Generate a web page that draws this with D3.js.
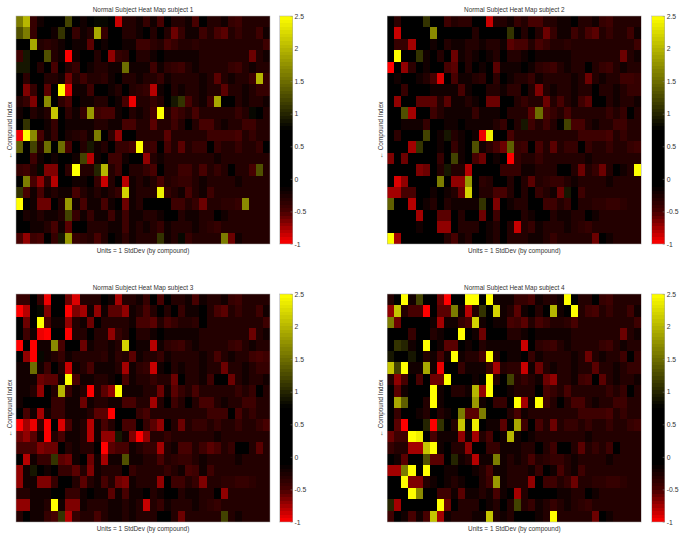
<!DOCTYPE html>
<html>
<head>
<meta charset="utf-8">
<script src="https://cdn.jsdelivr.net/npm/d3@7"></script>
<style>
  body { margin: 0; background: #fff; }
  text { font-family: "Liberation Sans", Arial, sans-serif; fill: #333; }
</style>
</head>
<body>
<svg id="chart" width="683" height="538"></svg>
<script>
const colorStops = [-1, -0.5, -0.1, 0.75, 2.5];
const colorRange = ["#ff0000", "#460000", "#000000", "#000000", "#ffff00"];
const barTicks = [-1, -0.5, 0, 0.5, 1, 1.5, 2, 2.5];
const xLabel = "Units = 1 StdDev (by compound)";
const yLabel = "\u2190 Compound Index";

const subject1 = [
[1.6,2,-.4,-.2,-.1,0,0,1.2,0,-.2,-.1,.8,.8,-.1,-.85,-.3,-.3,-.2,-.4,-.2,-.5,0,-.3,-.3,-.2,-.5,0,-.3,-.3,-.2,-.4,-.45,-.3,-.3,-.3,-.3],
[1.3,1.6,-.4,-.1,.6,-.2,1.1,.3,-.4,-.2,-.3,1.9,-.4,0,.3,-.3,-.3,-.2,-.1,-.3,0,-.3,-.6,-.4,-.2,-.2,-.45,-.3,-.5,-.55,-.3,-.4,-.3,-.3,-.45,-.2],
[0,0,1.9,-.3,-.35,-.3,-.2,0,-.2,-.2,-.55,-.1,-.2,0,0,-.2,-.2,-.45,-.45,-.35,-.3,-.5,-.4,-.3,-.3,-.35,-.3,-.3,-.3,-.3,-.3,-.3,-.3,-.3,-.3,-.45],
[-.45,.9,0,0,1.3,-.3,-.2,-1,-.2,.3,-.1,-.3,-.1,-.7,-.4,-.35,-.1,-.3,-.3,-.2,-.1,-.2,-.2,-.2,-.2,-.2,-.3,-.3,-.3,-.3,-.3,-.3,-.3,-.6,-.3,-.2],
[.9,.9,0,-.3,0,-.5,0,-.3,-.4,0,-.2,-.3,-.3,-.2,-.2,1.5,-.2,-.2,-.2,-.45,-.2,-.35,-.4,-.45,-.3,-.2,-.3,-.3,-.3,-.3,-.4,-.45,-.3,-.2,-.3,-.3],
[.3,-.35,0,0,-.3,-.3,-.2,-.6,-.3,-.45,-.3,-.3,-.35,-.2,-.1,-.3,-.3,-.2,-.3,-.3,-.4,-.2,-.3,-.3,-.3,-.3,-.2,-.3,-.55,-.3,-.2,-.3,-.3,-.45,2,-.4],
[-.1,-.65,-.4,0,-.55,0,2.5,-.9,-.2,-.2,-.45,0,0,-.2,-.3,.5,-.3,-.35,-.4,-.8,-.2,-.1,-.3,-.2,-.3,-.3,-.2,-.3,-.3,-.55,-.3,-.3,-.2,-.3,-.4,-.4],
[-.3,-.4,-.65,0,1.7,0,-.35,-.5,0,-.2,-.2,-.3,-.3,-.1,-.2,-.5,-.95,-.3,-.3,-.4,-.3,0,.9,1.1,-.5,-.3,-.2,-.45,1.9,.1,-.1,-.3,-.2,-.3,-.3,-.2],
[-.2,0,-.3,-.2,-.3,2.1,0,-.35,-.2,-.4,1.8,-.45,-.5,-.5,-.2,-.1,-.3,-.2,-.3,-.5,2.5,-.3,-.5,-.4,-.3,-.5,-.3,-.3,-.3,-.3,-.3,-.4,-.3,.8,-.1,-.3],
[-.1,1.1,0,0,-.2,-.4,-.1,-.2,-.2,-.2,-.2,-.3,-.3,-.2,-.2,-.5,-.5,-.3,-.3,-.55,-.3,-.3,-.45,-.3,-.1,-.3,-.5,-.5,-.3,-.2,-.3,-.3,-.45,-.45,-.3,-.3],
[-.95,2.5,1.7,-.5,-.2,-.4,0,-.25,-.3,-.35,-.2,1.6,-.1,-.35,-.7,-.1,-.1,-.3,-.3,-.3,-.3,-.55,-.3,-.3,-.3,-.3,-.3,-.45,-.45,-.45,-.45,-.5,-.3,-.4,-.3,-.3],
[1.4,0,1.2,-.3,1.5,-.1,1.5,-.5,-.1,-.3,.9,-.2,-.3,-.1,-.4,-.4,-.5,2.5,-.4,-.45,-.1,-.5,-.3,-.55,-.3,-.4,-.4,.1,-.4,-.3,-.3,-.4,-.3,-.3,-.4,-.1],
[0,0,-.45,-.2,0,-.2,.1,.5,-.2,1.2,-.8,-.2,0,-.45,-.45,-.2,0,0,-.7,-.3,-.2,-.3,-.3,-.3,-.3,-.3,-.3,-.3,-.2,-.3,-.3,-.3,-.3,-.3,-.3,-.3],
[-.4,-.45,-.3,.8,-.65,-.65,0,-.35,2.5,-.3,-.3,1,2,-.3,-.45,0,-.3,-.3,-.4,-.5,0,-.3,-.3,-.45,-.45,-.3,-.5,-.3,-.4,-.3,-.1,-.3,-.3,-.5,1.3,-.3],
[0,1.6,-.5,-.7,-.35,-.8,-.1,.7,-.2,-.2,0,-.4,-.85,-.3,-.1,-.8,-.2,-.3,-.2,-.3,-.5,-.3,-.35,-.4,-.4,-.3,-.2,-.3,-.3,-.3,-.3,-.2,-.3,-.3,-.3,-.3],
[1.1,-.5,-.2,-.5,-.2,-.3,-.2,-.2,-.5,-.3,-.2,-.3,-.2,-.3,-.4,2.2,-.2,-.3,-.3,-.3,2.4,-.4,-.3,-.2,-.5,-.3,-.2,-.45,-.3,-.3,-.3,-.3,-.3,-.3,-.3,-.3],
[2.5,0,-.2,-.6,-.6,0,-.3,1.8,-.2,-.5,-.2,-.2,-.5,-.2,-.1,-.6,-.2,-.3,0,-.1,0,-.1,-.45,-.45,-.3,-.4,-.6,-.3,-.3,-.35,-.35,-.4,1.7,-.3,-.3,-.3],
[0,-.25,-.2,-.3,-.2,-.2,-.3,1.2,-.4,-.2,-.4,-.2,-.2,-.45,-.2,-.45,-.2,-.2,-.3,-.3,-.2,-.1,-.1,-.3,-.2,-.2,-.3,-.3,-.1,-.2,-.3,-.3,-.3,-.3,-.3,-.3],
[0,.1,-.2,-.2,-.3,-.5,-.2,-.55,0,-.1,-.3,-.3,-.3,-.2,-.2,-.45,-.2,-.3,-.2,-.3,-.4,-.2,-.3,-.3,-.3,-.2,-.3,-.35,-.4,-.3,-.3,-.3,-.3,-.3,-.3,-.3],
[-.5,-.7,-.45,-.5,.1,-.4,.9,1.8,-.4,-.35,-.3,-.5,-.3,0,-.2,-.35,-.2,-.3,-.3,-.3,1.1,-.2,-.3,.8,-.4,-.3,-.3,-.3,-.3,1.6,-.6,-.2,-.3,-.3,-.3,-.3]
];

const subject2 = [
[0,-.35,-.1,-.1,-.1,1.1,0,-.1,-.45,-.3,-.35,-.35,0,-.1,-.85,-.3,-.3,-.2,-.4,-.3,-.5,-.5,-.3,-.3,-.2,-.2,0,-.3,-.3,-.2,-.4,-.45,-.3,-.3,-.3,-.3],
[0,-.85,0,0,0,0,1.7,0,0,.5,0,0,-.3,0,0,0,0,1.1,-.1,-.3,-.1,-.3,-.6,-.4,-.2,-.2,-.45,-.3,-.5,-.55,-.3,-.4,-.3,-.3,-.45,-.2],
[0,-.4,-.4,-.75,0,0,-.2,-.1,-.3,-.2,-.2,-.3,-.3,-.2,-.3,-.3,-.2,-.55,-.5,-.5,-.3,-.5,-.4,-.3,-.3,-.35,-.3,-.3,-.3,-.3,-.3,-.3,-.3,-.3,-.3,-.45],
[0,2.5,-.1,0,1.1,-.2,-.1,-.3,-.1,-.6,-.2,-.3,-.2,-.1,-.2,-.3,-.1,-.3,-.3,-.2,-.1,-.2,-.2,-.2,-.2,-.2,-.3,-.3,-.3,-.3,-.3,-.3,-.3,-.6,-.3,-.2],
[-1,-.1,-.7,-.35,-.1,-.2,0,0,-.5,-.55,-.1,-.3,0,-.2,-.1,-.55,-.2,-.2,-.2,.5,-.2,-.35,-.4,-.45,-.3,-.2,-.3,-.3,0,-.3,-.4,-.45,-.3,-.2,-.3,-.3],
[-.1,-.2,-.1,-.1,-.2,-.3,-.5,-.9,-.1,-.5,-.2,-.2,-.3,-.35,-.1,-.35,0,-.2,-.3,-.3,-.4,-.2,-.3,-.3,-.3,-.3,-.2,-.3,-.6,-.3,-.2,-.3,-.3,-.45,-.45,-.4],
[0,-.1,-.4,-.1,-.1,-.1,-.2,-.2,-.2,-.2,-.5,-.2,-.1,-.1,-.3,-.3,-.2,-.35,-.35,-.1,-.3,-.65,-.3,-.2,-.3,-.3,-.2,-.3,-.3,.7,-.3,-.3,-.2,-.3,-.4,-.4],
[0,-.7,-.1,-.1,-.55,-.55,-.55,-.3,-.55,-.2,-.2,-.3,-.2,-.1,-.6,-.6,0,0,-.3,-.4,-.3,-.3,-.6,-.3,-.5,-.3,-.2,-.45,-.55,0,-.1,-.3,-.2,-.3,-.3,-.2],
[0,.6,1.3,-.75,-.1,-.1,-.45,-.3,-.2,-.2,-.2,-.2,-.4,-.2,-.2,-.2,-.1,-.3,-.3,-.3,-.55,1.5,-.5,-.4,-.3,-.5,-.3,-.3,-.3,-.3,-.3,-.4,-.3,-.4,-.1,-.3],
[0,.1,-.2,-.2,-.2,-.4,-.1,-.1,-.2,-.2,-.1,-.2,-.2,-.2,-.2,-.3,-.4,-.1,-.3,.9,-.45,-.3,-.45,-.3,-.1,1.2,-.5,-.5,-.3,-.2,-.3,-.3,-.45,-.45,-.3,-.3],
[0,-.35,0,.6,-.1,1.2,0,-.2,.9,-.3,-.2,-.1,-.2,-.95,2.4,-.1,-.1,-.5,-.3,-.3,-.3,-.3,-.3,-.3,-.3,-.3,-.3,-.45,-.45,-.45,-.45,-.5,-.3,-.4,-.3,-.3],
[.6,0,0,-.75,1.1,-.1,.1,-.2,-.1,-.4,-.2,-.1,1.3,-.2,-.35,-.5,-.6,1.4,-.4,-.45,-.1,-.5,-.3,-.55,-.3,-.4,-.4,-.1,-.4,-.3,-.3,-.4,-.3,-.3,-.4,-.45],
[-.65,-.1,-.6,-.1,-.1,-.1,-.1,-.4,-.1,1.2,-.2,-.1,-.5,-.6,-.1,-.2,-.1,-1,-.4,-.3,-.3,-.4,-.3,-.3,-.3,-.3,-.3,-.3,-.2,-.3,-.3,-.3,-.3,-.3,-.3,-.3],
[-.1,-.1,.7,.2,-.65,-.6,-.1,-.3,.9,-.3,-.3,-.8,0,0,-.1,-.1,-.4,-.4,-.4,-.2,-.2,-.3,-.3,-.3,.4,0,-.3,-.6,-.3,-.4,-.6,-.3,-.1,-.2,-.3,2.5],
[-.1,-.9,-.7,-.1,-.1,.4,.4,1.6,0,-.7,-.7,1.8,-.1,-.35,-.3,-.1,-.1,-.3,-.1,-.3,-.55,-.3,-.35,-.4,-.4,-.3,-.2,-.3,-.3,-.3,-.3,-.2,-.3,-.3,-.3,-.3],
[-.75,-.75,-.5,-.5,-.1,-.1,-.2,-.1,-.2,-.3,-.6,2.2,-.1,-.3,-.3,-.5,-.5,-.3,-.1,-.3,0,-.4,-.3,-.2,-.6,.9,-.1,-.45,-.3,-.3,-.3,-.3,-.3,-.3,-.3,-.3],
[1.4,0,0,-.8,-.1,-.2,-.3,-.1,-.3,-.2,-.2,-.2,-.2,1.1,-.1,-.65,-.1,-.2,-.3,-.3,0,-.1,-.45,-.45,-.3,-.4,-.1,-.3,-.3,-.35,-.35,-.4,-.4,-.35,-.3,-.3],
[0,.5,.5,-.1,-.75,-.1,-.1,-.55,-.55,-.1,-.3,-.1,-.1,-.6,-.1,-.45,-.1,-.1,0,-.3,-.2,-.1,-.1,-.3,-.2,-.2,-.3,-.3,-.1,-.2,-.3,-.3,-.3,-.3,-.3,-.3],
[0,0,0,.7,-.2,-.1,-.1,-.7,-.7,-.1,-.3,-.3,-.3,-.1,-.2,-.3,-.1,-.3,-.85,-.3,-.4,-.2,-.3,-.3,-.3,-.2,-.3,-.35,-.4,-.3,-.3,-.3,-.3,-.3,-.3,-.3],
[2.5,-.75,-.1,0,0,0,0,-.1,-.3,-.5,-.2,-.3,-.1,-.1,-.2,-.3,-.1,-.3,-.3,-.3,-.2,-.2,-.3,-.4,-.3,-.3,-.3,-.3,-.3,-.6,-.1,-.2,-.3,-.3,-.3,-.3]
];

const subject3 = [
[-.4,-.4,-.1,-.4,-.95,.7,-.1,-.6,-.9,-.3,-.3,-.3,0,-.2,-.75,-.3,-.3,-.2,-.4,0,-.5,0,-.3,-.3,-.2,-.5,-.2,-.3,-.3,-.2,-.4,-.45,-.3,-.3,-.3,-.3],
[-1,-.8,-.1,.8,-.65,.5,-.1,-1,-.65,-.75,-.2,-.7,-.2,-.55,-.55,-.7,-.2,-.3,-.5,-.3,-.1,-.3,0,-.4,-.2,-.2,0,-.3,-.5,-.55,-.3,-.4,-.3,-.3,-.45,-.2],
[0,-.6,.7,2.5,-.5,-.2,-.2,-.7,-.3,-.2,-.6,-.1,-.3,-.3,-.3,-.3,-.2,-.5,-.5,-.55,-.3,-.5,-.4,-.3,-.3,-.35,.1,-.3,-.3,-.3,-.3,-.3,-.3,-.3,-.3,-.45],
[0,-.45,-.2,-.95,-1,-.1,-.1,-1,-.3,-.3,-.1,-.3,-.3,-.7,-.4,-.3,-.1,-.3,-.3,-.2,-.1,-.2,-.2,-.2,-.2,-.2,-.3,-.3,-.3,-.3,-.3,-.3,-.3,-.6,-.3,-.2],
[-1,0,-1,-.2,-.2,1.7,-.5,0,0,-.6,-.2,-.3,-.3,-.2,-.3,2.2,-.1,-.2,-.2,-.8,-.2,-.35,-.4,-.45,-.3,-.2,-.3,-.3,-.3,-.3,-.4,-.45,-.3,-.2,-.3,-.3],
[-.1,-.7,-1,.8,-.2,-.3,-.4,-.2,-.3,-.3,-.3,-.3,-.35,-.2,-.35,-.3,-.55,-.2,-.3,-.3,-.4,-.2,-.3,-.3,-.3,-.3,-.2,-.3,-.5,-.3,-.2,-.3,-.3,-.45,-.5,-.45],
[-.2,-.2,1.5,-.2,-.45,0,-.3,-.85,-.2,-.3,-.5,-.2,-.2,-.2,-.3,-.75,-.2,-.35,-.4,-.85,-.2,-.1,-.3,-.2,-.3,-.3,-.2,-.3,-.3,-.6,-.3,-.3,-.2,-.3,-.4,-.4],
[-.2,-.2,-.2,-.6,-.55,-.55,-.2,2.5,-.5,-.2,-.2,-.3,-.3,-.2,0,-.5,-.2,-.3,-.3,-.4,-.3,-.3,-.6,.6,-.3,-.3,-.2,-.45,0,0,-.6,-.3,-.2,-.3,-.3,-.2],
[-.2,-.2,-.3,-.7,-.1,-.3,2,-.4,-.2,-.3,-1,-.3,-.55,-.7,2.5,-.2,-.2,-.2,-.3,-.3,-.6,-.2,-.55,-.4,-.3,-.5,-.3,-.3,-.3,-.3,-.3,-.4,-.3,-.4,-.1,-.3],
[-.2,0,0,0,-.1,-.4,-.4,-.2,-.2,-.6,-.2,-.3,-.3,-.2,-.2,-.5,-.5,-.3,-.3,-.75,-.3,-.1,-.45,-.3,-.1,-.3,-.5,-.5,-.3,-.2,-.3,-.3,-.45,-.45,-.3,-.3],
[.5,-.5,-.2,-.75,-.2,-.4,-.4,-.2,-.2,-.2,-.3,-.55,-.55,-1,-.1,-.1,-.1,-.4,-.5,-.3,-.3,-.3,-.3,-.3,-.3,-.3,-.3,-.45,-.45,-.45,0,-.5,-.3,-.4,-.3,-.3],
[-1,-.75,-.95,-.4,-1,-.1,-.9,-.5,-.2,-.3,-.8,-.2,-.5,-.3,0,-.5,-.5,-.1,-.4,-.55,-.7,-.1,-.3,-.6,-.3,-.4,-.4,-.3,-.4,-.3,-.3,-.4,-.3,-.3,-.4,-.5],
[-.6,-.7,-.55,-.2,-1,-.3,-.5,-.2,-.2,-.3,-.8,-.2,-.7,-.7,.9,-.2,-.65,-1,-.7,-.3,-.3,-.4,-.3,-.3,-.3,-.3,-.3,-.3,-.2,-.3,-.3,-.3,-.3,-.3,-.3,-.3],
[-.5,-.5,-.5,-.65,-.6,-.6,0,-.3,-.2,-.3,-.3,.4,-1,-.55,-.5,-.5,-.2,-.3,-.4,-.4,-.75,-.3,-.2,-.5,-.5,-.3,-.45,-.55,-.5,-.3,-.4,-.1,-.1,-.3,-.55,-.3],
[0,-.8,-.2,-.4,-.4,1.1,-.55,-.6,-.2,0,-.6,-.2,-.75,-.2,-.2,1.3,-.2,-.2,-.3,-.3,-.5,-.3,-.35,-.4,-.4,-.3,-.2,-.3,-.3,-.3,-.3,-.2,-.3,-.3,-.3,-.3],
[-.7,-.2,.9,.6,-.2,-.1,-.4,-.4,-.55,-.3,-.65,-.2,-.3,-.3,-.3,-.1,-.4,-.3,-.3,-.3,-.3,-.4,-.3,-.2,-.5,-.45,-.2,-.45,-.3,-.3,-.3,-.3,-.3,-.3,-.3,-.3],
[-.7,-.2,-.2,-.65,-.65,-.4,-.1,0,-.3,-.55,-.3,-.2,-.5,-.3,-.6,-.65,-.2,-.3,-.3,-.3,-.7,-.1,-.45,-.45,-.3,-.4,-.65,-.3,-.3,-.35,-.35,-.4,-.4,-.35,-.3,-.3],
[-.3,-.3,-.2,-.2,-.2,0,0,-.4,-.4,-.2,0,-.2,-.2,-.55,-.2,-.5,-.2,-.2,0,-.3,-.2,-.1,-.1,-.3,-.2,-.2,-.3,-.3,-.1,-.7,-.3,-.3,-.3,-.3,-.3,-.3],
[-.7,-.7,-.2,-.2,-.3,2.5,-.2,-.65,-.65,-.2,-.3,-.3,-.3,-.2,-.2,-.3,-.2,-.3,-.85,-.3,-.4,-.2,-.3,-.3,-.3,-.2,-.3,-.35,-.4,-.3,-.3,-.3,-.3,-.3,-.3,-.3],
[-.3,0,-.2,-.2,-.4,-.5,1.1,-.8,-.4,-.3,-.3,-.5,-.3,-.2,-.2,-.3,-.2,-.3,-.3,-.3,0,-.1,-.3,-.6,-.3,-.3,-.3,-.3,-.3,1.2,-.3,-.2,-.3,-.3,-.3,-.3]
];

const subject4 = [
[-.3,0,2.5,-.2,1.2,0,0,-.6,-1,-.1,-.1,2.5,2.5,-.1,2.5,-.2,-.2,-.2,-.4,-.4,-.5,-.2,-.3,-.3,-.2,2.5,-.1,-.3,-.3,0,-.4,-.45,-.3,-.3,-.3,-.3],
[-.7,2.1,-.3,-.5,-.5,-1,0,-.55,-.55,1.6,-.2,-.8,-.3,1.1,-.1,2.2,-.2,-.3,-.55,-.2,-.1,-.3,-.1,2,-.2,-.1,2.5,-.3,-.45,-.5,-.3,-.4,-.3,-.3,-.45,-.2],
[1.6,-.6,.6,0,.1,0,-.2,-.75,-.2,-.2,-.4,-.5,2.2,-.2,-.1,-.2,-.2,-.5,-.45,-.55,-.3,-.5,-.4,-.3,-.3,-.35,-.5,-.3,-.3,-.3,-.3,-.3,-.3,-.3,-.3,-.45],
[0,0,0,-.4,-.1,0,-.3,-.2,-.1,0,2.5,0,-.2,-.6,0,-.1,-.1,-.3,-.3,-.2,-.1,-.2,-.2,-.2,-.2,-.2,-.3,-.3,-.3,-.3,-.3,-.3,-.3,-.6,-.3,-.2],
[0,1.1,1,-.2,0,2.5,0,-.2,-.55,-.55,.6,-.2,0,-.3,-.2,-.2,-.2,-.2,-.2,-.85,-.1,-.35,-.4,-.45,-.3,-.2,-.3,-.3,-.3,-.3,-.4,-.45,-.3,-.2,-.3,-.3],
[.9,0,0,.9,0,-.3,-.2,-.5,-.2,2.5,-.2,-.3,-.3,-.5,2.5,-.3,0,-.2,-.2,0,-.4,-.2,-.3,-.3,-.3,-.3,-.2,-.3,-.6,-.3,-.2,-.3,-.3,-.45,0,-.4],
[2.1,1.2,2.5,-.2,-.2,1.9,-.2,-.95,-.1,-.1,-.4,-.2,-.2,-.2,-.4,-.75,-.3,-.35,-.35,-.85,-.2,-.6,-.3,-.2,-.3,-.3,-.2,-.3,-.3,-.55,-.3,-.3,-.2,-.3,-.4,-.4],
[-.3,-.7,-.5,-.1,-.5,-.1,-.6,-.6,2.5,-.1,-.1,.4,-.2,-.1,2.5,-.3,0,1.2,-.3,-.4,-.3,-.2,-.6,-.7,-.3,-.3,-.2,-.45,-.5,0,-.55,-.3,-.2,-.3,-.3,-.2],
[0,-.55,-.2,-.1,-.1,-.1,2.5,-.2,-.1,-.3,-.3,-.2,2,-.7,2.5,-.1,-.1,-.2,-.3,-.3,-.3,0,-.5,-.4,-.3,-.5,-.3,-.3,-.3,-.3,-.3,-.4,-.3,-.4,-.1,-.3],
[-.1,1.9,1.4,-.1,0,-.3,2.5,-.2,0,0,0,-.1,1.8,-.2,-.1,-.4,-.4,-.1,2.5,-.75,-.2,2.5,-.45,-.3,-.1,-.3,-.5,-.5,-.3,-.2,-.3,-.3,-.45,-.45,-.3,-.3],
[.7,-.4,0,0,-.2,-.3,-.1,-.3,-.2,-.1,1.6,-.55,-.55,1.6,-.1,-.1,-.1,-.3,-.5,-.2,-.3,-.3,-.3,-.3,-.3,-.3,-.3,-.45,-.45,-.45,-.45,-.5,-.3,-.4,-.3,-.3],
[-.1,-.55,-1,-.1,-.1,1,-1,1.1,-.1,-.3,2.1,-.1,2.4,0,-.2,-.2,-.55,-.1,1.9,-.45,-.1,-.5,-.3,-.6,-.3,-.4,-.4,-.3,-.4,-.3,-.3,-.4,-.3,-.3,-.4,-.45],
[-.6,-.45,-.45,2.5,2.4,-.1,-.5,-.2,-.2,-.2,-.7,-.2,-.75,-.3,-.5,-.1,-.2,2,-.2,-.1,-.2,-.3,-.3,-.3,-.3,-.3,-.3,-.3,-.2,-.3,-.3,-.3,-.3,-.3,-.3,-.3],
[-.4,-.3,-.3,-.75,-.75,2.1,2.5,-.2,-.1,-.3,-.3,-.7,0,0,-.4,-.4,-.2,-.2,-.2,-.3,-.3,0,-.3,-.45,0,-.1,-.3,-.55,-.3,-.4,-.3,-.45,-.1,-.3,-.3,-.3],
[-.1,-.2,-.55,-.1,-.1,1.3,-.55,-.55,-.1,1,-.2,-.3,-.8,-.2,-.2,1.6,-.2,-.3,-.2,-.3,-.5,-.3,-.35,-.4,-.4,-.3,-.2,-.3,-.3,-.3,-.3,-.2,-.3,-.3,-.3,-.3],
[-.75,-.75,1.6,2.5,-.1,2.5,-.1,-.1,-.2,-.2,.5,.6,-.2,-.3,-.5,-.2,-.2,-.3,-.3,-.3,-.2,-.4,0,-.2,-.5,-.3,-.2,-.45,-.3,-.3,-.3,-.3,-.3,-.3,-.3,-.3],
[0,0,2.5,-.65,-.65,-.3,-.2,0,-.2,-.3,-.2,-.1,-.1,-.3,-.45,1.8,-.2,-.3,-.3,-.3,-.7,-.1,-.45,-.45,-.3,-.4,-.6,-.3,-.3,-.35,-.35,-.4,-.4,-.35,-.3,-.3],
[0,0,-.1,2.5,1.7,-.1,-.1,-.45,-.45,-.2,-.55,-.2,-.2,-.3,-.2,-.5,-.2,.6,-.75,-.3,0,-.1,0,0,-.2,-.2,-.3,-.3,-.1,-.2,-.3,-.3,-.3,-.3,-.3,-.3],
[1,-.75,-.1,-.1,-.1,.7,.1,2.5,-.6,-.1,-.3,-.3,-.3,-.1,-.2,-.3,-.1,-.3,1.2,-.3,-.4,-.2,-.3,-.4,-.3,-.2,-.3,-.35,-.4,-.3,-.3,-.3,-.3,-.3,-.3,-.3],
[-.45,0,-.2,-.5,-.2,-.5,2.1,-.75,-.2,-.3,-.3,-.3,-.2,-.2,2.1,-.3,-.2,-.3,-.1,0,0,-.2,-.3,2.5,-.3,-.3,-.3,-.3,-.3,-.6,-.1,-.2,-.3,-.3,-.3,-.3]
];

const subjects = [subject1, subject2, subject3, subject4];
const panelLeft = [16, 387.3];
const panelTop = [16, 294];

const color = d3.scaleLinear().domain(colorStops).range(colorRange);
const svg = d3.select("#chart");

function drawPanel(values, index) {
    const left = panelLeft[index % 2];
    const top = panelTop[Math.floor(index / 2)];
    const width = 254;
    const height = 228;

    const g = svg.append("g").attr("transform", `translate(${left},${top})`);

    const x = d3.scaleBand().domain(d3.range(values[0].length)).range([0, width]);
    const y = d3.scaleBand().domain(d3.range(values.length)).range([0, height]);

    // crispEdges stops seams between cells, the blur softens them like the source image
    const cells = g.append("g")
        .attr("shape-rendering", "crispEdges")
        .style("filter", "blur(0.4px)");
    values.forEach((row, r) => {
        cells.selectAll(null)
            .data(row)
            .join("rect")
            .attr("x", (d, c) => x(c))
            .attr("y", y(r))
            .attr("width", x.bandwidth())
            .attr("height", y.bandwidth())
            .attr("fill", d => color(d));
    });

    g.append("rect")
        .attr("width", width)
        .attr("height", height)
        .attr("fill", "none")
        .attr("stroke", "#aaa")
        .attr("stroke-width", 0.5);

    g.append("text")
        .attr("x", width / 2)
        .attr("y", -4)
        .attr("text-anchor", "middle")
        .style("font-size", "6.4px")
        .text(`Normal Subject Heat Map subject ${index + 1}`);

    g.append("text")
        .attr("x", width / 2)
        .attr("y", height + 8.5)
        .attr("text-anchor", "middle")
        .style("font-size", "6.4px")
        .text(xLabel);

    g.append("text")
        .attr("transform", `translate(-4,${height / 2}) rotate(-90)`)
        .attr("text-anchor", "middle")
        .style("font-size", "6.4px")
        .text(yLabel);

    // colorbar
    const barLeft = index % 2 ? width + 10.4 : width + 9.5;
    const barWidth = 13;
    const barScale = d3.scaleLinear().domain([-1, 2.5]).range([height, 0]);
    const bar = g.append("g").attr("transform", `translate(${barLeft},0)`);
    const steps = d3.range(64).map(i => -1 + (i + 0.5) * 3.5 / 64);

    bar.append("g")
        .attr("shape-rendering", "crispEdges")
        .style("filter", "blur(0.3px)")
        .selectAll("rect")
        .data(steps)
        .join("rect")
        .attr("y", d => barScale(d + 3.5 / 128))
        .attr("width", barWidth)
        .attr("height", height / 64)
        .attr("fill", d => color(d));

    const axis = d3.axisRight(barScale)
        .tickValues(barTicks)
        .tickFormat(String)
        .tickSize(0)
        .tickPadding(2);

    const axisG = bar.append("g")
        .attr("transform", `translate(${barWidth},0)`)
        .call(axis);
    axisG.select(".domain").remove();
    axisG.selectAll("text")
        .style("font-size", "6.8px")
        .style("font-family", '"Liberation Sans", Arial, sans-serif')
        .attr("fill", "#333");
    axisG.selectAll(".tick").append("line")
        .attr("x1", -2)
        .attr("x2", 0)
        .attr("stroke", "#888")
        .attr("stroke-width", 0.5);

    bar.append("rect")
        .attr("width", barWidth)
        .attr("height", height)
        .attr("fill", "none")
        .attr("stroke", "#aaa")
        .attr("stroke-width", 0.5);
}

subjects.forEach(drawPanel);
</script>
</body>
</html>
